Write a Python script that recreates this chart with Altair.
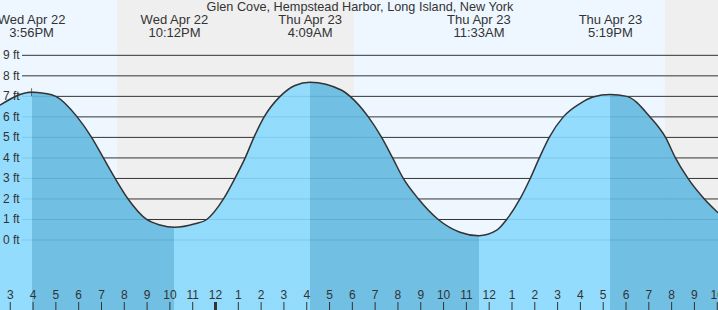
import altair as alt
import pandas as pd

# ---- data ----
title_text = "Glen Cove, Hempstead Harbor, Long Island, New York"

domain_start = "2020-04-22T14:33"
domain_end = "2020-04-23T22:02"

curve_time = [
    "2020-04-22T14:33", "2020-04-22T15:56", "2020-04-22T16:28", "2020-04-22T17:00",
    "2020-04-22T17:56", "2020-04-22T18:34", "2020-04-22T19:05", "2020-04-22T19:36",
    "2020-04-22T20:10", "2020-04-22T20:59", "2020-04-22T21:34", "2020-04-22T22:12",
    "2020-04-22T23:06", "2020-04-22T23:37", "2020-04-23T00:21", "2020-04-23T00:51",
    "2020-04-23T01:18", "2020-04-23T01:41", "2020-04-23T02:08", "2020-04-23T02:50",
    "2020-04-23T03:29", "2020-04-23T04:09", "2020-04-23T05:32", "2020-04-23T05:54",
    "2020-04-23T06:42", "2020-04-23T07:17", "2020-04-23T07:46", "2020-04-23T08:14",
    "2020-04-23T08:54", "2020-04-23T09:46", "2020-04-23T10:43", "2020-04-23T11:33",
    "2020-04-23T12:20", "2020-04-23T12:46", "2020-04-23T13:21", "2020-04-23T13:48",
    "2020-04-23T14:12", "2020-04-23T14:38", "2020-04-23T15:15", "2020-04-23T15:59",
    "2020-04-23T16:33", "2020-04-23T17:19", "2020-04-23T18:02", "2020-04-23T19:03",
    "2020-04-23T19:44", "2020-04-23T20:10", "2020-04-23T20:43", "2020-04-23T21:26",
    "2020-04-23T22:02",
]
curve_ft = [
    6.57, 7.20, 7.15, 7.00,
    6.00, 5.00, 4.00, 3.00,
    2.00, 1.00, 0.73, 0.62,
    0.79, 1.00, 2.00, 3.00,
    4.00, 5.00, 6.00, 7.00,
    7.53, 7.69, 7.30, 7.00,
    6.00, 5.00, 4.00, 3.00,
    2.00, 1.00, 0.38, 0.21,
    0.48, 1.00, 2.00, 3.00,
    4.00, 5.00, 6.00, 6.65,
    6.97, 7.09, 7.00, 6.00,
    5.00, 4.00, 3.00, 2.00,
    1.33,
]

event_time = ["2020-04-22T15:56", "2020-04-22T22:12", "2020-04-23T04:09",
              "2020-04-23T11:33", "2020-04-23T17:19"]
event_day = ["Wed Apr 22", "Wed Apr 22", "Thu Apr 23", "Thu Apr 23", "Thu Apr 23"]
event_clock = ["3:56PM", "10:12PM", "4:09AM", "11:33AM", "5:19PM"]
event_kind = ["high", "low", "high", "low", "high"]

night_start = ["2020-04-22T19:41", "2020-04-23T19:42"]
night_end = ["2020-04-23T06:04", "2020-04-23T22:02"]

ft_levels = [0, 1, 2, 3, 4, 5, 6, 7, 8, 9]
ft_labels = [f"{v} ft" for v in ft_levels]

hour_ticks = pd.date_range("2020-04-22 15:00", "2020-04-23 22:00", freq="h")
hour_labels = [str(((t.hour + 11) % 12) + 1) for t in hour_ticks]

now_time = ["2020-04-22T15:56"]
now_ft = [7.2]

Y_MIN, Y_MAX = -3.411, 11.696

# ---- tables ----
curve_df = pd.DataFrame({"t": curve_time, "ft": curve_ft})
curve_df["base"] = Y_MIN
event_df = pd.DataFrame({"t": event_time, "day": event_day, "clock": event_clock})
night_df = pd.DataFrame({"t0": night_start, "t1": night_end})
ft_df = pd.DataFrame({"ft": ft_levels, "label": ft_labels})
hour_df = pd.DataFrame({
    "t": [t.strftime("%Y-%m-%dT%H:%M") for t in hour_ticks],
    "label": hour_labels,
    "w": [3 if t.hour == 0 else 1 for t in hour_ticks],
})
now_df = pd.DataFrame({"t": now_time, "ft": now_ft})

# gradient stops: light while rising, darker while falling
LIGHT = "#89d9fd"
DARK = "#63bae1"
t0 = pd.Timestamp(domain_start)
t1 = pd.Timestamp(domain_end)
span = (t1 - t0).total_seconds()
stops = [alt.GradientStop(color=LIGHT, offset=0)]
cur = LIGHT
for et, kind in zip(event_time, event_kind):
    off = (pd.Timestamp(et) - t0).total_seconds() / span
    stops.append(alt.GradientStop(color=cur, offset=off))
    cur = DARK if kind == "high" else LIGHT
    stops.append(alt.GradientStop(color=cur, offset=off))
stops.append(alt.GradientStop(color=cur, offset=1))


def dt(s):
    p = pd.Timestamp(s)
    return alt.DateTime(year=p.year, month=p.month, date=p.day, hours=p.hour, minutes=p.minute)


xscale = alt.Scale(domain=[dt(domain_start), dt(domain_end)], nice=False)
yscale = alt.Scale(domain=[Y_MIN, Y_MAX], nice=False, zero=False)

X = lambda f: alt.X(f"{f}:T", scale=xscale, axis=None)
Y = lambda f: alt.Y(f"{f}:Q", scale=yscale, axis=None)

FONT = "Liberation Sans"
TXT = "#333333"
CURVE = "monotone"

night = alt.Chart(night_df).mark_rect(color="#efefef", clip=True).encode(
    x=X("t0"), x2="t1", y=alt.value(0), y2=alt.value(310)
)

grid = alt.Chart(ft_df).mark_rule(color="#333333", strokeWidth=1).encode(
    x=alt.value(22), x2=alt.value(718), y=Y("ft")
)

area = alt.Chart(curve_df).mark_area(
    interpolate=CURVE,
    opacity=0.9,
    color=alt.Gradient(gradient="linear", stops=stops, x1=0, x2=1, y1=0, y2=0),
).encode(x=X("t"), y=Y("ft"), y2="base:Q")

line = alt.Chart(curve_df).mark_line(
    interpolate=CURVE, color="#333333", strokeWidth=1.5
).encode(x=X("t"), y=Y("ft"))

ft_text = alt.Chart(ft_df).mark_text(
    align="left", baseline="middle", font=FONT, fontSize=12, color=TXT
).encode(x=alt.value(3), y=Y("ft"), text="label:N")

ticks = alt.Chart(hour_df).mark_rule(color="#333333").encode(
    x=X("t"), y=alt.value(302), y2=alt.value(310),
    strokeWidth=alt.StrokeWidth("w:Q", scale=None),
)

hour_text = alt.Chart(hour_df).mark_text(
    align="center", baseline="alphabetic", font=FONT, fontSize=12, color=TXT
).encode(x=X("t"), y=alt.value(299), text="label:N")

day_text = alt.Chart(event_df).mark_text(
    align="center", baseline="alphabetic", font=FONT, fontSize=13, color=TXT
).encode(x=X("t"), y=alt.value(24), text="day:N")

clock_text = alt.Chart(event_df).mark_text(
    align="center", baseline="alphabetic", font=FONT, fontSize=13, color=TXT
).encode(x=X("t"), y=alt.value(36.5), text="clock:N")

title = alt.Chart(pd.DataFrame({"title": [title_text]})).mark_text(
    align="center", baseline="alphabetic", font=FONT, fontSize=12.7, color=TXT
).encode(x=alt.value(360), y=alt.value(11), text="title:N")

now = alt.Chart(now_df).mark_point(
    shape="M-1,0L1,0M0,-1L0,1", size=64, color="#333333", strokeWidth=1, filled=False
).encode(x=X("t"), y=Y("ft"))

chart = alt.layer(
    night, grid, area, line, ft_text, ticks, hour_text, day_text, clock_text, title, now
).properties(
    width=718, height=310, padding=0, autosize=alt.AutoSizeParams(type="none"),
    background="#eef7ff",
).configure_view(stroke=None, fill="#eef7ff")

chart.save("out.html", embed_options={"renderer": "svg", "actions": False})
